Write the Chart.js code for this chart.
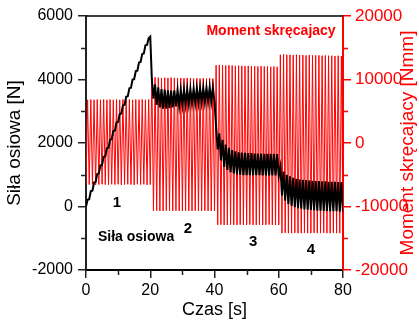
<!DOCTYPE html>
<html>
<head>
<meta charset="utf-8">
<script src="https://cdn.jsdelivr.net/npm/chart.js@4.4.1/dist/chart.umd.min.js"></script>
<style>
  html, body { margin: 0; padding: 0; background: #fff; }
  #wrap { width: 419px; height: 320px; }
</style>
</head>
<body>
<div id="wrap"><canvas id="chart"></canvas></div>
<script>
// time [s], one sample every half second
var time = [
  0, 0.5, 1, 1.5, 2, 2.5, 3, 3.5, 4, 4.5, 5, 5.5, 6, 6.5, 7, 7.5, 8, 8.5, 9, 9.5,
  10, 10.5, 11, 11.5, 12, 12.5, 13, 13.5, 14, 14.5, 15, 15.5, 16, 16.5, 17, 17.5, 18, 18.5, 19, 19.5,
  20, 20.5, 21, 21.5, 22, 22.5, 23, 23.5, 24, 24.5, 25, 25.5, 26, 26.5, 27, 27.5, 28, 28.5, 29, 29.5,
  30, 30.5, 31, 31.5, 32, 32.5, 33, 33.5, 34, 34.5, 35, 35.5, 36, 36.5, 37, 37.5, 38, 38.5, 39, 39.5,
  40, 40.5, 41, 41.5, 42, 42.5, 43, 43.5, 44, 44.5, 45, 45.5, 46, 46.5, 47, 47.5, 48, 48.5, 49, 49.5,
  50, 50.5, 51, 51.5, 52, 52.5, 53, 53.5, 54, 54.5, 55, 55.5, 56, 56.5, 57, 57.5, 58, 58.5, 59, 59.5,
  60, 60.5, 61, 61.5, 62, 62.5, 63, 63.5, 64, 64.5, 65, 65.5, 66, 66.5, 67, 67.5, 68, 68.5, 69, 69.5,
  70, 70.5, 71, 71.5, 72, 72.5, 73, 73.5, 74, 74.5, 75, 75.5, 76, 76.5, 77, 77.5, 78, 78.5, 79, 79.5,
  80
];

// Siła osiowa [N]
var force = [
  0, 215, 230, 485, 500, 755, 770, 1025, 1040, 1295, 1310, 1565, 1580, 1835, 1850, 2105, 2120, 2375, 2390, 2645,
  2660, 2915, 2930, 3185, 3200, 3455, 3470, 3725, 3740, 3995, 4010, 4265, 4280, 4535, 4550, 4805, 4820, 5075, 5090, 5300,
  5350, 4000, 3400, 3850, 3200, 3750, 3120, 3700, 3080, 3680, 3080, 3660, 3100, 3650, 3120, 3660, 3150, 3660, 3170, 3670,
  3190, 3680, 3210, 3690, 3230, 3700, 3250, 3710, 3260, 3720, 3270, 3730, 3280, 3740, 3290, 3740, 3300, 3750, 3300, 3750,
  3300, 2500, 1800, 2300, 1450, 2100, 1250, 1950, 1150, 1850, 1080, 1780, 1040, 1740, 1010, 1710, 1000, 1700, 990, 1690,
  990, 1680, 990, 1680, 990, 1670, 990, 1670, 990, 1670, 980, 1660, 980, 1660, 980, 1660, 980, 1660, 980, 1650,
  980, 1250, 350, 1100, 180, 1000, 80, 950, 20, 900, -20, 870, -50, 850, -70, 840, -90, 830, -100, 820,
  -110, 810, -120, 800, -130, 800, -130, 790, -140, 790, -140, 780, -150, 780, -150, 780, -150, 770, -160, 770,
  -160
];

// Moment skręcajacy [Nmm]
var torque = [
  -6500, 6800, -6550, 6850, -6500, 6800, -6600, 6850, -6550, 6800, -6500, 6850, -6550, 6800, -6600, 6850, -6500, 6800, -6550, 6850,
  -6500, 6800, -6600, 6850, -6550, 6800, -6500, 6850, -6550, 6800, -6600, 6850, -6500, 6800, -6550, 6850, -6500, 6800, -6600, 6850,
  -6550, 10300, -10700, 10350, -10650, 10300, -10700, 10250, -10700, 10300, -10650, 10250, -10700, 10300, -10700, 10250, -10650, 10200, -10700, 10250,
  -10700, 10200, -10650, 10250, -10700, 10200, -10700, 10150, -10650, 10200, -10700, 10150, -10700, 10200, -10650, 10150, -10700, 10200, -10700, 10150,
  -10700, 12250, -12900, 12300, -12850, 12250, -12900, 12200, -12900, 12250, -12850, 12200, -12900, 12150, -12900, 12200, -12850, 12150, -12900, 12100,
  -12900, 12150, -12850, 12100, -12900, 12100, -12900, 12050, -12850, 12100, -12900, 12050, -12900, 12050, -12850, 12000, -12900, 12050, -12900, 12000,
  -12900, 13900, -14200, 13950, -14150, 13900, -14200, 13900, -14200, 13850, -14150, 13900, -14200, 13850, -14200, 13850, -14150, 13800, -14200, 13850,
  -14200, 13800, -14150, 13800, -14200, 13800, -14200, 13750, -14150, 13800, -14200, 13750, -14200, 13750, -14150, 13700, -14200, 13750, -14200, 13700,
  -14200
];

var xTicks = [0, 20, 40, 60, 80];
var forceTicks = [-2000, 0, 2000, 4000, 6000];
var torqueTicks = [-20000, -10000, 0, 10000, 20000];

var FONT = '"Liberation Sans", Arial, sans-serif';
var RED = '#ff0000';

function pairs(xs, ys) {
  return xs.map(function (x, i) { return { x: x, y: ys[i] }; });
}

function plain(v) { return String(v); }

// texts placed in data coordinates (x in s, y in N)
var notes = [
  { text: '1', x: 9.6, y: 110, color: '#000', size: 15 },
  { text: '2', x: 31.7, y: -690, color: '#000', size: 15 },
  { text: '3', x: 52, y: -1100, color: '#000', size: 15 },
  { text: '4', x: 70, y: -1350, color: '#000', size: 15 },
  { text: 'Siła osiowa', x: 15.6, y: -960, color: '#000', size: 14 },
  { text: 'Moment skręcajacy', x: 57.6, y: 5520, color: RED, size: 14 }
];

var decor = {
  id: 'decor',
  afterDraw: function (chart) {
    var c = chart.ctx, a = chart.chartArea;
    var sx = chart.scales.x, sf = chart.scales.yF, st = chart.scales.yT;
    c.save();
    // top frame line
    c.strokeStyle = '#000';
    c.lineWidth = 1.5;
    c.beginPath();
    c.moveTo(a.left, a.top);
    c.lineTo(a.right, a.top);
    c.stroke();

    // minor ticks
    c.lineWidth = 1.5;
    c.strokeStyle = '#222';
    c.beginPath();
    [-1000, 1000, 3000, 5000].forEach(function (v) {
      var y = Math.round(sf.getPixelForValue(v)) + 0.5;
      c.moveTo(a.left - 5, y); c.lineTo(a.left, y);
    });
    [10, 30, 50, 70].forEach(function (v) {
      var x = Math.round(sx.getPixelForValue(v)) + 0.5;
      c.moveTo(x, a.bottom); c.lineTo(x, a.bottom + 5);
    });
    c.stroke();
    c.strokeStyle = RED;
    c.beginPath();
    [-15000, -5000, 5000, 15000].forEach(function (v) {
      var y = Math.round(st.getPixelForValue(v)) + 0.5;
      c.moveTo(a.right, y); c.lineTo(a.right + 5, y);
    });
    c.stroke();

    // notes
    c.textAlign = 'center';
    c.textBaseline = 'middle';
    notes.forEach(function (n) {
      c.fillStyle = n.color;
      c.font = 'bold ' + n.size + 'px ' + FONT;
      c.fillText(n.text, sx.getPixelForValue(n.x), sf.getPixelForValue(n.y));
    });

    // axis titles
    c.fillStyle = '#000';
    c.font = '18px ' + FONT;
    c.fillText('Czas [s]', (a.left + a.right) / 2, 310);
    c.save();
    c.translate(15, (a.top + a.bottom) / 2);
    c.rotate(-Math.PI / 2);
    c.font = '19px ' + FONT;
    c.fillText('Siła osiowa [N]', 0, 0);
    c.restore();
    c.save();
    c.translate(408, (a.top + a.bottom) / 2);
    c.rotate(-Math.PI / 2);
    c.fillStyle = RED;
    c.font = '19px ' + FONT;
    c.fillText('Moment skręcajacy [Nmm]', 0, 0);
    c.restore();
    c.restore();
  }
};

new Chart(document.getElementById('chart'), {
  type: 'line',
  data: {
    datasets: [
      {
        label: 'Siła osiowa',
        data: pairs(time, force),
        yAxisID: 'yF',
        borderColor: '#000',
        borderWidth: 2,
        pointRadius: 0,
        tension: 0,
        order: 0
      },
      {
        label: 'Moment skręcajacy',
        data: pairs(time, torque),
        yAxisID: 'yT',
        borderColor: RED,
        borderWidth: 1,
        pointRadius: 0,
        tension: 0,
        order: 1
      }
    ]
  },
  plugins: [decor],
  options: {
    responsive: true,
    maintainAspectRatio: false,
    animation: false,
    layout: { padding: { top: 16, left: 0, right: 0, bottom: 0 } },
    plugins: {
      legend: { display: false },
      tooltip: { enabled: false }
    },
    scales: {
      x: {
        type: 'linear',
        min: 0,
        max: 80,
        afterFit: function (s) { s.height = 50; },
        afterBuildTicks: function (s) { s.ticks = xTicks.map(function (v) { return { value: v }; }); },
        border: { color: '#000', width: 2 },
        grid: { drawOnChartArea: false, tickLength: 8, color: '#222', lineWidth: 1.5 },
        ticks: { color: '#000', font: { family: FONT, size: 16 }, padding: 3, maxRotation: 0, callback: plain }
      },
      yF: {
        position: 'left',
        min: -2000,
        max: 6000,
        afterFit: function (s) { s.width = 86; },
        afterBuildTicks: function (s) { s.ticks = forceTicks.map(function (v) { return { value: v }; }); },
        border: { color: '#222', width: 2 },
        grid: { drawOnChartArea: false, tickLength: 8, color: '#222', lineWidth: 1.5 },
        ticks: { color: '#000', font: { family: FONT, size: 16 }, padding: 5, callback: plain }
      },
      yT: {
        position: 'right',
        min: -20000,
        max: 20000,
        afterFit: function (s) { s.width = 76; },
        afterBuildTicks: function (s) { s.ticks = torqueTicks.map(function (v) { return { value: v }; }); },
        border: { color: RED, width: 2 },
        grid: { drawOnChartArea: false, tickLength: 8, color: RED, lineWidth: 1.5 },
        ticks: { color: RED, font: { family: FONT, size: 17 }, padding: 4, callback: plain }
      }
    }
  }
});
</script>
</body>
</html>
